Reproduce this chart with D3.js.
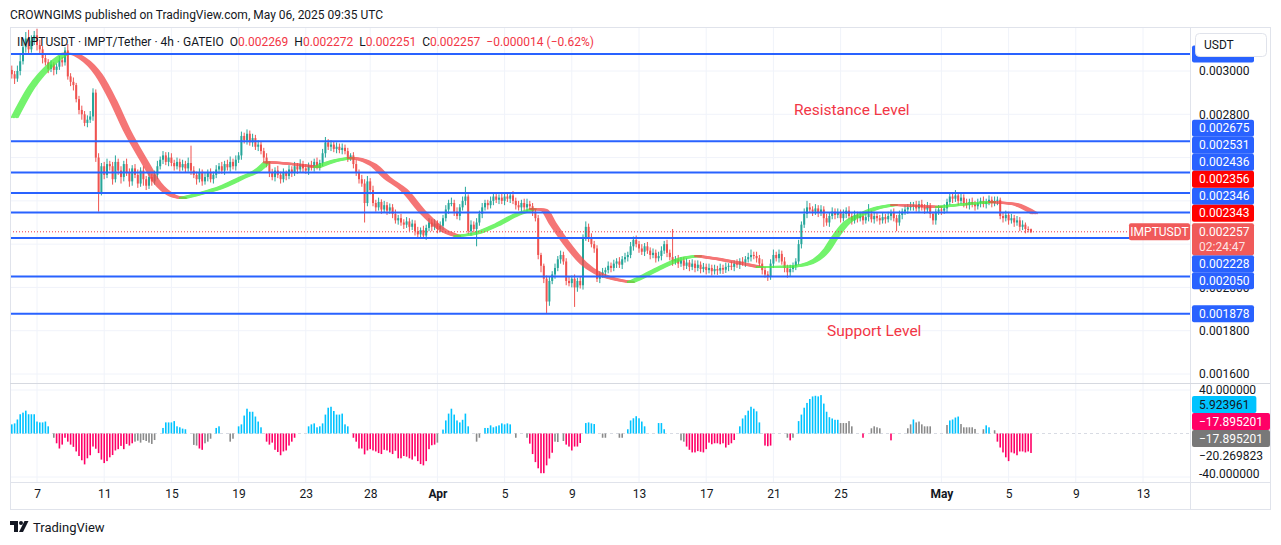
<!DOCTYPE html>
<html>
<head>
<meta charset="utf-8">
<script src="https://cdn.jsdelivr.net/npm/d3@7"></script>
<style>
  body { margin: 0; background: #fff; }
  svg { font-family: Roboto, "Noto Sans", sans-serif; }
</style>
</head>
<body>
<svg id="chart" width="1281" height="545"></svg>
<script>
// ---- data (prices in millionths of USDT, one candle = 4h) ----
const firstOpen = 3005;
const candleClose = [
  2985,2965,3000,3045,3110,3150,3100,3140,3165,3120,
  3100,3060,3040,3010,3030,3005,3020,3050,3040,3095,
  2975,2950,2935,2870,2820,2800,2760,2775,2790,2900,
  2600,2440,2560,2520,2570,2560,2500,2580,2540,2510,
  2570,2530,2490,2550,2520,2480,2540,2500,2470,2510,
  2490,2520,2560,2590,2610,2580,2600,2575,2560,2580,
  2555,2570,2550,2575,2540,2520,2500,2530,2490,2510,
  2530,2500,2520,2545,2560,2540,2570,2555,2580,2560,
  2590,2610,2700,2680,2710,2670,2690,2650,2660,2630,
  2600,2570,2530,2510,2540,2520,2500,2530,2515,2545,
  2530,2560,2545,2570,2550,2540,2565,2555,2580,2560,
  2575,2620,2670,2650,2660,2640,2650,2635,2645,2630,
  2600,2610,2570,2530,2500,2480,2390,2490,2450,2390,
  2370,2395,2360,2380,2355,2370,2340,2310,2320,2300,
  2290,2305,2280,2295,2260,2245,2265,2240,2275,2300,
  2280,2295,2270,2285,2320,2360,2390,2390,2350,2330,
  2370,2400,2420,2260,2290,2270,2300,2340,2370,2390,
  2380,2400,2420,2405,2415,2400,2420,2410,2425,2400,
  2380,2370,2390,2370,2385,2375,2350,2320,2150,2100,
  2040,1935,2030,2060,2090,2130,2150,2120,2030,2020,
  2040,2000,2030,2010,2230,2280,2230,2200,2180,2040,
  2060,2070,2080,2100,2090,2110,2120,2105,2130,2140,
  2150,2190,2220,2200,2180,2165,2190,2170,2150,2160,
  2135,2145,2170,2200,2160,2140,2120,2130,2110,2125,
  2100,2115,2095,2110,2090,2105,2085,2095,2080,2090,
  2075,2085,2078,2090,2082,2095,2100,2095,2110,2105,
  2120,2115,2130,2140,2150,2145,2135,2110,2080,2060,
  2050,2110,2150,2135,2155,2120,2090,2070,2085,2100,
  2120,2200,2290,2340,2370,2360,2350,2365,2345,2360,
  2320,2300,2330,2350,2335,2345,2320,2340,2355,2330,
  2310,2335,2320,2330,2310,2325,2340,2315,2330,2320,
  2310,2325,2315,2330,2345,2320,2300,2335,2350,2360,
  2370,2375,2380,2365,2385,2370,2360,2375,2340,2310,
  2350,2360,2355,2365,2395,2420,2410,2425,2400,2415,
  2390,2380,2395,2385,2375,2390,2400,2385,2395,2405,
  2390,2400,2405,2330,2320,2335,2310,2320,2300,2310,
  2280,2290,2270,2269,2257
];
// wick length above / below the body
const wickUp = [
  20,15,25,30,35,30,40,25,20,30,  25,15,20,15,20,10,15,20,15,15,
  30,15,20,10,15,20,15,20,25,20,  15,20,15,20,25,15,20,30,15,20,
  15,25,20,15,20,25,15,20,15,20,  15,20,25,15,20,15,25,20,15,20,
  15,20,15,25,80,20,15,20,15,20,  15,20,15,20,15,20,15,20,25,15,
  20,15,20,15,20,15,20,15,20,15,  15,20,12,18,15,22,15,20,10,20,
  15,20,15,22,15,20,12,20,15,20,  15,20,25,15,20,15,20,15,20,15,
  15,10,15,20,15,20,20,25,15,20,  15,20,12,20,15,18,15,20,15,20,
  15,20,15,18,15,20,12,20,15,20,  15,20,15,20,15,20,15,25,15,20,
  15,20,45,10,20,15,20,15,20,15,  15,20,15,20,15,20,15,20,15,20,
  15,20,15,20,25,15,15,10,15,10,  10,15,20,15,20,15,20,15,15,20,
  15,20,15,20,15,25,15,20,15,15,  15,20,12,20,15,18,15,20,15,20,
  15,20,15,20,15,20,15,20,15,20,  15,20,20,15,20,15,130,15,20,15,
  15,20,12,20,15,20,15,18,15,20,  15,20,15,20,15,20,12,20,15,20,
  15,20,15,20,25,15,20,15,20,15,  15,20,25,15,20,15,20,15,20,15,
  15,20,15,25,30,20,15,20,15,20,  15,20,15,20,15,20,15,20,15,20,
  15,20,15,20,15,20,45,15,20,15,  15,20,15,20,15,20,15,20,15,20,
  15,20,15,20,15,20,15,20,15,10,  15,20,15,20,15,20,15,25,15,20,
  15,20,15,20,15,20,15,20,15,20,  15,20,15,10,15,20,15,20,15,20,
  15,20,10,12,3
];
const wickDn = [
  20,25,15,20,15,25,20,15,20,25,  20,25,15,20,15,25,20,15,20,15,
  15,20,25,15,20,25,15,20,15,20,  20,90,15,20,15,20,25,15,20,30,
  20,15,25,20,15,20,15,30,20,15,  20,15,20,15,20,15,20,15,20,15,
  20,15,20,15,20,15,25,15,20,15,  20,15,20,15,20,15,20,15,20,15,
  20,15,20,15,20,15,20,15,20,15,  20,15,20,15,20,15,20,15,20,15,
  20,15,20,15,20,15,20,15,20,15,  20,15,20,15,20,15,20,15,20,15,
  20,15,20,15,20,15,90,15,20,15,  20,15,20,15,20,15,20,15,20,15,
  20,15,20,15,20,15,20,15,20,15,  20,15,20,15,20,15,20,15,20,15,
  20,15,20,15,20,15,80,15,20,15,  20,15,20,15,20,15,20,15,20,15,
  20,15,20,15,20,15,20,15,20,30,  20,53,20,15,20,15,20,15,20,15,
  20,90,20,15,20,15,20,15,20,15,  20,15,20,15,20,15,20,15,20,15,
  20,15,20,15,20,15,20,15,20,15,  20,15,20,15,20,15,20,15,20,15,
  20,15,20,15,20,15,20,15,20,15,  20,15,20,15,20,15,20,15,20,15,
  20,15,20,15,20,15,20,15,20,15,  20,15,20,15,20,15,20,25,20,15,
  20,15,20,15,20,15,20,15,20,15,  40,15,20,15,20,15,20,15,20,15,
  20,15,20,15,20,15,20,15,20,15,  20,15,20,15,20,15,40,15,20,15,
  20,15,20,15,20,15,20,15,20,20,  20,15,20,15,20,15,20,15,20,15,
  20,15,20,15,20,15,20,15,20,15,  20,15,20,15,20,15,20,15,20,15,
  20,15,20,15,6
];

// trend line (candle index, price)
const maIdx = [0,6,14,18,21,24,30,35,40,46,51,56,60,67,74,81,87,90,94,99,
  108,114,120,123,128,133,139,146,153,158,165,172,179,185,189,192,197,203,208,213,
  220,224,231,239,244,253,266,278,284,290,293,297,302,308,314,323,330,340,349,357,364];
const maVal = [2787,2926,3042,3080,3078,3060,2982,2866,2727,2589,2482,2427,2413,2436,2464,2506,2543,2578,2576,2570,
  2556,2584,2598,2593,2566,2506,2450,2344,2265,2238,2251,2288,2335,2362,2358,2298,2205,2113,2067,2043,
  2025,2048,2094,2136,2145,2127,2094,2097,2113,2173,2233,2298,2335,2367,2381,2376,2372,2385,2395,2385,2343];

// horizontal support / resistance levels
const levelVals = [3079, 2675, 2531, 2436, 2346, 2228, 2050, 1878];
const lastPrice = 2257;

// oscillator histogram, colour: c = cyan, m = magenta, g = grey, - = none
const oscVal = [
  8.4,9.3,12.9,17.7,19.2,21,17.7,17.7,17.7,11,
  10.2,10.2,11,6.6,0,-3.9,-9,-13.8,-10.2,-3.9,
  -7.5,-10.2,-12.3,-16.5,-20.7,-24.6,-28.4,-22.8,-20,-12,
  -14,-18,-24,-27.2,-25.4,-21.9,-19.8,-15.6,-14.4,-11.4,
  -14.4,-9.6,-11.1,-9,-7.5,-6.6,-8.4,-6,-6.9,-8.4,
  -9.6,-6,0,0,5.1,10.2,10.2,10.2,11.4,6.6,
  5.7,4.5,3.9,0,0,-10.5,-11.1,-13.8,-15,-9,
  -7.5,-4.8,0,5.1,6.6,0,0,0,-7.5,-4.8,
  0,6.6,8.4,16.5,22.8,20,20,15.6,11,5.7,
  0,-7.5,-10.2,-8.4,-15,-17,-20,-16.5,-15.6,-11.1,
  -7.5,-3.9,0,0,0,0,6.6,8.4,9.3,5.7,
  6.6,9.3,17.4,23.7,24.6,20.7,17.4,17.4,18.3,8.4,
  6.6,0,-3.9,-7.5,-13.8,-13.8,-19.2,-15.6,-14.4,-15.6,
  -16.5,-18,-18.9,-15,-15.6,-17.4,-18.9,-15.9,-22.8,-22.8,
  -20.7,-21.3,-22.8,-24,-21,-25.4,-28.1,-29.3,-25.4,-14.4,
  -10.8,-10.2,-8.4,0,3.6,12,18.3,22.8,17.4,12,
  10.2,12.6,18.3,6.6,0,0,-7.5,-3.9,0,5.1,
  5.1,7.5,5.7,6.6,7.5,9.3,8.4,9.3,8.4,0,
  -3.9,0,0,0,-3.9,-9.3,-18.9,-26.3,-32,-36.5,
  -36.5,-29.3,-23,-17.7,-7.5,-7.8,0,-6.9,-10.2,-12,
  -15.6,-12,-12,-8.7,0,9.6,10.2,9.3,8.7,0,
  0,-3.9,-3.9,0,0,0,0,-3.9,-3.9,0,
  3.9,12,14,15.9,14,11,6.6,0,0,0,
  0,9.6,9.6,3.9,0,0,0,0,0,-6.3,
  -7.5,-12,-15,-17.4,-17.4,-16.2,-16.8,-17.4,-14.4,-8.4,
  -9.9,-9,-9,-9.9,-9,-12.9,-10.5,-9,-6,0,
  6.6,13.8,16.8,21,24.6,22.8,20.4,10.2,0,-11.1,
  -11.7,-11.1,0,0,0,0,0,-3.9,-6.3,-3.9,
  0,11.4,17.4,23.7,28.1,31.7,34.1,34.7,34.1,35.3,
  27.5,20,15,13.8,12.6,12.6,9.6,9.6,9.6,11.4,
  6.6,0,0,0,-3.9,0,0,4.8,6.6,5.7,
  4.8,0,0,0,-6.3,0,0,0,0,0,
  4.8,8.4,12.9,10.2,11,8.4,6.6,6.6,6.6,0,
  0,0,0,0,7.8,12,12.9,14.7,15.6,8.7,
  5.7,5.7,5.7,5.7,4.2,0,0,3.9,7.5,5.7,
  0,3,-7.5,-12.9,-17.4,-21.9,-25.4,-17.4,-18.3,-20,
  -16.5,-16.5,-17.4,-16.5,-17.9
];
const oscCol =
  "cccccccccc" + "cccc-gmmmm" + "mmmmmmmmmm" + "mmmmmmmmmm" + "mmmmgggggg" +
  "gg--cccccc" + "ccc--ggmmg" + "gg-cc---gg" + "-ccccccccc" + "-mmmmmmmmm" +
  "mm----cccc" + "cccccccccc" + "c-mmmmmmmm" + "mmmmmmmmmm" + "mmmmmmmmmm" +
  "mmg-cccccc" + "cccc--gg-c" + "ccccccccc-" + "g---gmmmmm" + "mmmmgg-gmm" +
  "mmmm-cccc-" + "-gg----gg-" + "ccccccc---" + "-ccc-----g" + "gmmmmmmmmm" +
  "mmmmmmmmm-" + "cccccccc-m" + "mm-----gmg" + "-ccccccccc" + "ccccccgggg" +
  "g---m--ggg" + "g---m-----" + "ggcgggggg-" + "----gccccg" + "ggggg--gcc" +
  "-gmmmmmmmm" + "mmmmm";
// last values shown on the oscillator scale, lowest first
const oscLast = [
  { v: -20.269823, text: "\u221220.269823", fill: null, color: "#131722" },
  { v: -17.895201, text: "\u221217.895201", fill: "#787878", color: "#fff" },
  { v: -17.895201, text: "\u221217.895201", fill: "#ff0066", color: "#fff" },
  { v: 5.923961, text: "5.923961", fill: "#00c3ff", color: "#131722" }
];

// axes
const priceTicks = [1600, 1800, 2000, 2800, 3000];
const oscTicks = [-40, 40];
const timeTicks = [9, 33, 57, 81, 105, 128, 152, 176, 200, 224, 248, 272, 296, 332, 356, 380, 404];
const timeLabels = ["7","11","15","19","23","28","Apr","5","9","13","17","21","25","May","5","9","13"];

// ---- layout ----
const L = 10, R = 1190, AX = 1270;
const TOP = 27, SEP = 383, OSCB = 482, BOT = 509;
const BTN_B = 57;
const UP = "#26a69a", DN = "#ef5350", BLUE = "#2962ff";
const GRID = "#f0f3fa", BORDER = "#e0e3eb", TXT = "#131722";
const OSC_COL = { c: "#00c3ff", m: "#ff0066", g: "#8a8a8a" };

const svg = d3.select("#chart");
const x = d3.scaleLinear().domain([0, 364]).range([11.8, 1031]);
const y = d3.scaleLinear().domain([1600, 3000]).range([374, 71]);
const yo = d3.scaleLinear().domain([-40, 40]).range([477, 390]);

const defs = svg.append("defs");
defs.append("clipPath").attr("id", "clipPrice")
  .append("rect").attr("x", L).attr("y", TOP).attr("width", R - L).attr("height", SEP - TOP);
defs.append("clipPath").attr("id", "clipOsc")
  .append("rect").attr("x", L).attr("y", SEP).attr("width", R - L).attr("height", OSCB - SEP);

// grid
const gridPrice = [1600, 1800, 2000, 2200, 2400, 2600, 2800, 3000];
const grid = svg.append("g");
grid.selectAll("line.vg").data(timeTicks).join("line")
  .attr("x1", d => x(d)).attr("x2", d => x(d)).attr("y1", TOP).attr("y2", OSCB)
  .attr("stroke", GRID);
grid.selectAll("line.hg").data(gridPrice).join("line")
  .attr("x1", L).attr("x2", R).attr("y1", d => y(d)).attr("y2", d => y(d))
  .attr("stroke", GRID);
grid.selectAll("line.og").data(oscTicks).join("line")
  .attr("x1", L).attr("x2", R).attr("y1", d => yo(d)).attr("y2", d => yo(d))
  .attr("stroke", GRID);

// candles
const candles = candleClose.map((c, i) => {
  const o = i === 0 ? firstOpen : candleClose[i - 1];
  return { i, o, c, h: Math.max(o, c) + wickUp[i], l: Math.min(o, c) - wickDn[i] };
});
const gc = svg.append("g").attr("clip-path", "url(#clipPrice)");
gc.selectAll("line.wick").data(candles).join("line")
  .attr("x1", d => x(d.i)).attr("x2", d => x(d.i))
  .attr("y1", d => y(d.h)).attr("y2", d => y(d.l))
  .attr("stroke", d => d.c >= d.o ? UP : DN).attr("stroke-width", 1);
gc.selectAll("rect.body").data(candles).join("rect")
  .attr("x", d => x(d.i) - 1).attr("width", 2)
  .attr("y", d => y(Math.max(d.o, d.c)))
  .attr("height", d => Math.max(1, Math.abs(y(d.o) - y(d.c))))
  .attr("fill", d => d.c >= d.o ? UP : DN);

// trend band, green while rising, red while falling
const maPts = maIdx.map((k, j) => ({ k, v: maVal[j] }));
const runs = [];
let dir = Math.sign(maPts[1].v - maPts[0].v), cur = [maPts[0]];
for (let j = 1; j < maPts.length; j++) {
  const dj = Math.sign(maPts[j].v - maPts[j - 1].v) || dir;
  if (dj !== dir) { runs.push({ dir, pts: cur }); cur = [maPts[j - 1]]; dir = dj; }
  cur.push(maPts[j]);
}
runs.push({ dir, pts: cur });
const maLine = d3.line().x(p => x(p.k)).y(p => y(p.v)).curve(d3.curveMonotoneX);
const gm = svg.append("g").attr("clip-path", "url(#clipPrice)");
runs.forEach(r => {
  const g = gm.append("g").attr("opacity", 0.75);
  [0, 1.5, 3, 4.5, 6].forEach(off => {
    g.append("path").attr("d", maLine(r.pts))
      .attr("transform", `translate(${off},0)`)
      .attr("fill", "none")
      .attr("stroke", r.dir > 0 ? "#45ef3c" : "#f24848")
      .attr("stroke-width", 2).attr("stroke-linecap", "round");
  });
});

// levels
svg.append("g").selectAll("line").data(levelVals).join("line")
  .attr("x1", L).attr("x2", R).attr("y1", d => y(d)).attr("y2", d => y(d))
  .attr("stroke", BLUE).attr("stroke-width", 2);

// last price dotted line
svg.append("line")
  .attr("x1", L).attr("x2", 1129).attr("y1", y(lastPrice)).attr("y2", y(lastPrice))
  .attr("stroke", "#f23645").attr("stroke-dasharray", "1,2");

// oscillator
svg.append("line").attr("x1", L).attr("x2", R).attr("y1", yo(0)).attr("y2", yo(0))
  .attr("stroke", "#d8dbe3").attr("stroke-dasharray", "3,3");
svg.append("g").attr("clip-path", "url(#clipOsc)")
  .selectAll("rect").data(oscVal.map((v, i) => ({ i, v, c: oscCol[i] })).filter(d => d.c !== "-"))
  .join("rect")
  .attr("x", d => x(d.i) - 0.8).attr("width", 1.6)
  .attr("y", d => Math.min(yo(0), yo(d.v)))
  .attr("height", d => Math.abs(yo(d.v) - yo(0)))
  .attr("fill", d => OSC_COL[d.c]);

// frame
const fr = svg.append("g").attr("fill", "none").attr("stroke", BORDER);
fr.append("rect").attr("x", L + 0.5).attr("y", TOP + 0.5).attr("width", AX - L).attr("height", BOT - TOP);
fr.append("line").attr("x1", R + 0.5).attr("x2", R + 0.5).attr("y1", TOP).attr("y2", BOT);
fr.append("line").attr("x1", L).attr("x2", AX).attr("y1", SEP + 0.5).attr("y2", SEP + 0.5).attr("stroke", "#d6d9e0");
fr.append("line").attr("x1", L).attr("x2", AX).attr("y1", OSCB + 0.5).attr("y2", OSCB + 0.5);

// time axis
const tAxis = svg.append("g").attr("transform", `translate(0,${OSCB + 7})`)
  .call(d3.axisBottom(x).tickValues(timeTicks).tickFormat((d, i) => timeLabels[i]).tickSize(0).tickPadding(0));
tAxis.select(".domain").remove();
tAxis.selectAll("text").attr("font-size", 12).attr("fill", TXT)
  .attr("font-family", "Roboto, sans-serif")
  .attr("font-weight", (d, i) => /[A-Za-z]/.test(timeLabels[i]) ? 700 : 400);

// price axis ticks (the ones hidden behind level labels are left out)
const pAxis = svg.append("g").attr("transform", `translate(${R},0)`)
  .call(d3.axisRight(y).tickValues(priceTicks).tickFormat(v => (v / 1e6).toFixed(6)).tickSize(0).tickPadding(9));
pAxis.select(".domain").remove();
pAxis.selectAll("text").attr("font-size", 12).attr("fill", TXT).attr("font-family", "Roboto, sans-serif");

const oAxis = svg.append("g").attr("transform", `translate(${R},0)`)
  .call(d3.axisRight(yo).tickValues(oscTicks).tickFormat(v => v.toFixed(6)).tickSize(0).tickPadding(9));
oAxis.select(".domain").remove();
oAxis.selectAll("text").attr("font-size", 12).attr("fill", TXT).attr("font-family", "Roboto, sans-serif")
  .attr("dy", d => d < 0 ? "0.0em" : "0.32em");

// price labels, stacked around the last price label
const LH = 17;
const curY = y(lastPrice), curTop = curY - 8.5, curBot = curTop + 32;
const plabels = levelVals.map(v => ({ v, fill: BLUE }))
  .concat([{ v: 2356, fill: "#ff0000" }, { v: 2343, fill: "#ff0000" }])
  .map(d => Object.assign(d, { ty: y(d.v) }));
let lim = curTop;
plabels.filter(d => d.ty < curY).sort((a, b) => b.ty - a.ty).forEach(d => {
  d.cy = Math.min(d.ty, lim - LH / 2); lim = d.cy - LH / 2;
});
lim = curBot;
plabels.filter(d => d.ty >= curY).sort((a, b) => a.ty - b.ty).forEach(d => {
  d.cy = Math.max(d.ty, lim + LH / 2); lim = d.cy + LH / 2;
});
const pl = svg.append("g").attr("font-size", 12).attr("font-family", "Roboto, sans-serif");
plabels.forEach(d => {
  pl.append("rect").attr("x", R + 2).attr("y", d.cy - LH / 2).attr("width", 62).attr("height", LH)
    .attr("rx", 2).attr("fill", d.fill);
  // a label tucked under the currency button only shows its lower edge
  if (d.cy - LH / 2 >= BTN_B) {
    pl.append("text").attr("x", R + 9).attr("y", d.cy).attr("dy", "0.35em").attr("fill", "#fff")
      .text((d.v / 1e6).toFixed(6));
  }
});
pl.append("rect").attr("x", R + 2).attr("y", curTop).attr("width", 62).attr("height", 32)
  .attr("rx", 2).attr("fill", "#f05a5a");
pl.append("text").attr("x", R + 9).attr("y", curY).attr("dy", "0.35em").attr("fill", "#fff")
  .text((lastPrice / 1e6).toFixed(6));
pl.append("text").attr("x", R + 9).attr("y", curY + 15).attr("dy", "0.35em").attr("fill", "#fff")
  .attr("fill-opacity", 0.85).text("02:24:47");
pl.append("rect").attr("x", 1129).attr("y", curTop).attr("width", 61).attr("height", LH)
  .attr("rx", 2).attr("fill", "#f05a5a");
pl.append("text").attr("x", 1159.5).attr("y", curY).attr("dy", "0.35em").attr("fill", "#fff")
  .attr("text-anchor", "middle").text("IMPTUSDT");

// oscillator last-value labels, stacked upward from the lowest
let olim = Infinity;
oscLast.forEach(d => {
  d.cy = Math.min(yo(d.v), olim - LH / 2); olim = d.cy - LH / 2;
});
const ol = svg.append("g").attr("font-size", 12).attr("font-family", "Roboto, sans-serif");
oscLast.forEach(d => {
  const t = ol.append("text").attr("x", R + 9).attr("y", d.cy).attr("dy", "0.35em")
    .attr("fill", d.color).text(d.text);
  if (d.fill) {
    const w = t.node().getComputedTextLength();
    ol.insert("rect", "text").attr("x", R + 2).attr("y", d.cy - LH / 2)
      .attr("width", w + 14).attr("height", LH).attr("rx", 2).attr("fill", d.fill);
  }
});

// currency button
svg.append("rect").attr("x", 1195.5).attr("y", 33.5).attr("width", 71).attr("height", BTN_B - 34)
  .attr("rx", 4).attr("fill", "#fff").attr("stroke", BORDER);
svg.append("text").attr("x", 1204).attr("y", 45).attr("dy", "0.35em")
  .attr("font-size", 12).attr("fill", TXT).text("USDT");

// annotations
svg.append("text").attr("x", x(300)).attr("y", y(2820)).attr("dy", "0.35em")
  .attr("text-anchor", "middle").attr("font-size", 15.5).attr("fill", "#f23645").text("Resistance Level");
svg.append("text").attr("x", x(308)).attr("y", y(1800)).attr("dy", "0.35em")
  .attr("text-anchor", "middle").attr("font-size", 15.5).attr("fill", "#f23645").text("Support Level");

// legend
const lg = svg.append("text").attr("x", 17).attr("y", 42).attr("dy", "0.35em")
  .attr("font-size", 12).attr("fill", TXT);
lg.append("tspan").text("IMPTUSDT \u00b7 IMPT/Tether \u00b7 4h \u00b7 GATEIO");
[["O", "0.002269"], ["H", "0.002272"], ["L", "0.002251"], ["C", "0.002257"]].forEach(p => {
  lg.append("tspan").attr("dx", 6).text(p[0]);
  lg.append("tspan").attr("fill", "#f23645").text(p[1]);
});
lg.append("tspan").attr("dx", 6).attr("fill", "#f23645").text("\u22120.000014 (\u22120.62%)");

// header
svg.append("text").attr("x", 10).attr("y", 15).attr("dy", "0.35em")
  .attr("font-size", 12).attr("fill", TXT)
  .text("CROWNGIMS published on TradingView.com, May 06, 2025 09:35 UTC");

// TradingView mark
const logo = svg.append("g").attr("fill", TXT);
logo.append("rect").attr("x", 10).attr("y", 521).attr("width", 8).attr("height", 4);
logo.append("rect").attr("x", 14).attr("y", 521).attr("width", 4).attr("height", 11);
logo.append("circle").attr("cx", 21).attr("cy", 523).attr("r", 2);
logo.append("polygon").attr("points", "19,532 23,532 28.5,521 24.5,521");
svg.append("text").attr("x", 33).attr("y", 527).attr("dy", "0.35em")
  .attr("font-size", 13).attr("fill", TXT).text("TradingView");
</script>
</body>
</html>
